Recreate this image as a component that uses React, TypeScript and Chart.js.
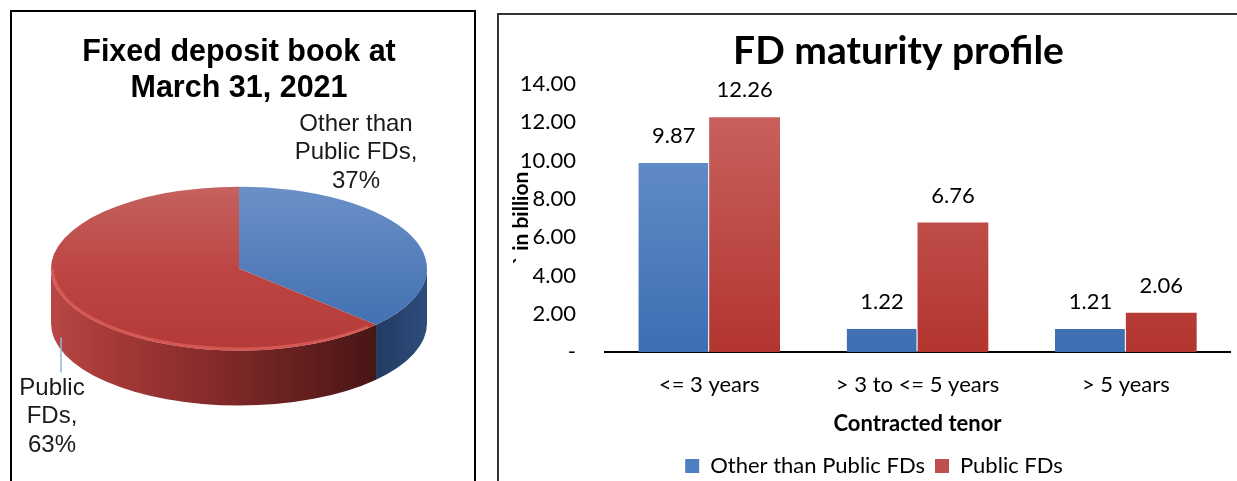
import { useEffect, useRef } from "react";
import { Chart, registerables } from "chart.js";

Chart.register(...registerables);

// ---------- data ----------
const pieTitle = ["Fixed deposit book at", "March 31, 2021"];
const pieCategories = ["Other than Public FDs", "Public FDs"];
const pieValues = [37, 63];
const pieLabelLines = [["Other than", "Public FDs,"], ["Public", "FDs,"]];

const barTitle = "FD maturity profile";
const barCategories = ["<= 3 years", "> 3 to <= 5 years", "> 5 years"];
const otherThanPublicFDs = [9.87, 1.22, 1.21];
const publicFDs = [12.26, 6.76, 2.06];
const yTickValues = [0, 2, 4, 6, 8, 10, 12, 14];
const xAxisTitle = "Contracted tenor";
const yAxisTitle = "` in billion";
const seriesNames = ["Other than Public FDs", "Public FDs"];

// ---------- styles ----------
const SQUASH = 0.436;
const DEPTH = 55;
const PIE_RADIUS = 188;
const pieLabelOffsets = [
  [117, -116],
  [-187, 148],
];
const pieLabelLineHeight = 28.5;
const BAR_TITLE_SHIFT = 31;

const pie3dPlugin = {
  id: "pie3d",
  beforeDatasetsDraw(chart: any) {
    const ctx = chart.ctx;
    const arcs = chart.getDatasetMeta(0).data;
    if (!arcs.length) return;
    const p = arcs[0].getProps(["x", "y", "outerRadius"], true);
    const cx = p.x, cy = p.y, R = p.outerRadius;
    const ry = R * SQUASH;
    arcs.forEach((arc: any, i: number) => {
      const a = arc.getProps(["startAngle", "endAngle"], true);
      const a0 = Math.max(a.startAngle, 0);
      const a1 = Math.min(a.endAngle, Math.PI);
      if (a1 <= a0) return;
      ctx.save();
      ctx.beginPath();
      ctx.ellipse(cx, cy, R, ry, 0, a0, a1, false);
      ctx.ellipse(cx, cy + DEPTH, R, ry, 0, a1, a0, true);
      ctx.closePath();
      const g = ctx.createLinearGradient(cx - R, 0, cx + R, 0);
      if (i === 0) {
        g.addColorStop(0, "#1a2f4e");
        g.addColorStop(0.8, "#1c3253");
        g.addColorStop(1, "#2e4d7c");
      } else {
        g.addColorStop(0, "#b84745");
        g.addColorStop(0.15, "#a63a38");
        g.addColorStop(0.5, "#7c2727");
        g.addColorStop(0.85, "#4a1616");
        g.addColorStop(1, "#3a1010");
      }
      ctx.fillStyle = g;
      ctx.fill();
      ctx.restore();
    });
    ctx.save();
    ctx.translate(cx, cy);
    ctx.scale(1, SQUASH);
    ctx.translate(-cx, -cy);
  },
  afterDatasetsDraw(chart: any) {
    const ctx = chart.ctx;
    ctx.restore();
    const arcs = chart.getDatasetMeta(0).data;
    if (!arcs.length) return;
    const p = arcs[0].getProps(["x", "y", "outerRadius"], true);
    const cx = p.x, cy = p.y, R = p.outerRadius;
    const ry = R * SQUASH;
    const red = arcs[1].getProps(["startAngle", "endAngle"], true);
    ctx.save();
    ctx.beginPath();
    ctx.ellipse(cx, cy, R - 1.5, ry - 1.5, 0, Math.max(red.startAngle, 0) + 0.05, Math.PI, false);
    ctx.strokeStyle = "rgba(225,100,96,0.7)";
    ctx.lineWidth = 3;
    ctx.stroke();
    ctx.restore();
  },
  afterDraw(chart: any) {
    const ctx = chart.ctx;
    const arcs = chart.getDatasetMeta(0).data;
    if (!arcs.length) return;
    const p = arcs[0].getProps(["x", "y"], true);
    const cx = p.x, cy = p.y;
    const total = pieValues.reduce((s, v) => s + v, 0);
    ctx.save();
    ctx.fillStyle = "#1a1a1a";
    ctx.font = "24px 'Liberation Sans'";
    ctx.textAlign = "center";
    ctx.textBaseline = "middle";
    pieValues.forEach((v, i) => {
      const lines = [...pieLabelLines[i], Math.round((v / total) * 100) + "%"];
      const lx = cx + pieLabelOffsets[i][0];
      const ly = cy + pieLabelOffsets[i][1];
      lines.forEach((t, k) => {
        ctx.fillText(t, lx, ly + (k - (lines.length - 1) / 2) * pieLabelLineHeight);
      });
    });
    ctx.strokeStyle = "#8eb4e3";
    ctx.lineWidth = 1.5;
    ctx.beginPath();
    ctx.moveTo(cx - 178, cy + 69);
    ctx.lineTo(cx - 178, cy + 104);
    ctx.stroke();
    ctx.restore();
  },
};

const pieFace = (c: any) => {
  const i = c.dataIndex;
  const chart = c.chart;
  const ca = chart.chartArea;
  if (!ca) return i === 0 ? "#4f7cbf" : "#bd4744";
  const cy = (ca.top + ca.bottom) / 2;
  const g = chart.ctx.createLinearGradient(0, cy - PIE_RADIUS, 0, cy + PIE_RADIUS);
  if (i === 0) {
    g.addColorStop(0, "#6b90c8");
    g.addColorStop(1, "#3b6bae");
  } else {
    g.addColorStop(0, "#c5625f");
    g.addColorStop(0.5, "#bd4643");
    g.addColorStop(1, "#b33a37");
  }
  return g;
};

const barLabelPlugin = {
  id: "barLabels",
  afterDatasetsDraw(chart: any) {
    const ctx = chart.ctx;
    ctx.save();
    ctx.font = "22px Lato";
    ctx.fillStyle = "#000";
    ctx.textAlign = "center";
    ctx.textBaseline = "middle";
    chart.data.datasets.forEach((ds: any, di: number) => {
      chart.getDatasetMeta(di).data.forEach((bar: any, j: number) => {
        const b = bar.getProps(["x", "y"], true);
        ctx.fillText(Number(ds.data[j]).toFixed(2), b.x, b.y - 27);
      });
    });
    ctx.restore();
  },
};

const barTextPlugin = {
  id: "barText",
  afterDraw(chart: any) {
    const ctx = chart.ctx;
    const ca = chart.chartArea;
    // y-axis title
    ctx.save();
    ctx.translate(ca.left - 84, (ca.top + ca.bottom) / 2);
    ctx.rotate(-Math.PI / 2);
    ctx.font = "bold 21px Lato";
    ctx.fillStyle = "#000";
    ctx.textAlign = "center";
    ctx.textBaseline = "middle";
    ctx.fillText(yAxisTitle, 0, 0);
    ctx.restore();
    // chart title (space reserved by the title block)
    const tb = chart.titleBlock;
    if (tb) {
      ctx.save();
      ctx.font = "bold 39px Lato";
      ctx.fillStyle = "#000";
      ctx.textAlign = "center";
      ctx.textBaseline = "middle";
      const yMid = tb.top + 14 + (39 * 1.2) / 2;
      ctx.fillText(barTitle, chart.width / 2 + BAR_TITLE_SHIFT, yMid);
      ctx.restore();
    }
  },
};

const barFill = (top: string, bottom: string) => (c: any) => {
  const ca = c.chart.chartArea;
  if (!ca) return bottom;
  const g = c.chart.ctx.createLinearGradient(0, ca.top, 0, ca.bottom);
  g.addColorStop(0, top);
  g.addColorStop(1, bottom);
  return g;
};

const legendColors = ["#4f7fc0", "#c0504d"];

export default function App() {
  const pieRef = useRef<HTMLCanvasElement>(null);
  const barRef = useRef<HTMLCanvasElement>(null);

  useEffect(() => {
    const pie = new Chart(pieRef.current!, {
      type: "pie",
      data: {
        labels: pieCategories,
        datasets: [
          {
            data: pieValues,
            backgroundColor: pieFace as any,
            borderWidth: 0,
            radius: PIE_RADIUS,
          } as any,
        ],
      },
      options: {
        responsive: false,
        animation: false,
        events: [],
        layout: { padding: { left: 0, right: 8, top: 0, bottom: 51 } },
        plugins: {
          legend: { display: false },
          tooltip: { enabled: false },
          title: {
            display: true,
            text: pieTitle,
            color: "#000",
            font: { family: "'Liberation Sans'", size: 30.5, weight: "bold", lineHeight: 1.2 },
            padding: { top: 24, bottom: 0 },
          },
        },
      },
      plugins: [pie3dPlugin],
    });

    const bar = new Chart(barRef.current!, {
      type: "bar",
      data: {
        labels: barCategories,
        datasets: [
          {
            label: seriesNames[0],
            data: otherThanPublicFDs,
            backgroundColor: barFill("#6e96cf", "#3d6eb2") as any,
            borderColor: "#ffffff",
            borderWidth: { top: 0, right: 1, bottom: 0, left: 0 },
            categoryPercentage: 0.68,
            barPercentage: 1,
          },
          {
            label: seriesNames[1],
            data: publicFDs,
            backgroundColor: barFill("#cb6663", "#b3352f") as any,
            borderWidth: 0,
            categoryPercentage: 0.68,
            barPercentage: 1,
          },
        ],
      },
      options: {
        responsive: false,
        animation: false,
        events: [],
        layout: { padding: { left: 20, right: 7, top: 0, bottom: 13 } },
        plugins: {
          tooltip: { enabled: false },
          title: {
            display: true,
            text: barTitle,
            color: "rgba(0,0,0,0)",
            font: { family: "Lato", size: 39, weight: "bold", lineHeight: 1.2 },
            padding: { top: 14, bottom: 9 },
          },
          legend: {
            position: "bottom",
            labels: {
              color: "#000",
              font: { family: "Lato", size: 22 },
              boxWidth: 14,
              boxHeight: 14,
              padding: 10,
              generateLabels: (chart: any) =>
                chart.data.datasets.map((ds: any, i: number) => ({
                  text: ds.label,
                  fillStyle: legendColors[i],
                  strokeStyle: legendColors[i],
                  lineWidth: 0,
                  hidden: false,
                  datasetIndex: i,
                  fontColor: "#000",
                })),
            },
          },
        },
        scales: {
          x: {
            grid: { display: false, drawTicks: false },
            border: { display: true, color: "#000", width: 2 },
            ticks: { color: "#000", font: { family: "Lato", size: 22 }, padding: 20 },
            title: {
              display: true,
              text: xAxisTitle,
              color: "#000",
              font: { family: "Lato", size: 22, weight: "bold" },
              padding: { top: -8, bottom: 8 },
            },
          },
          y: {
            min: 0,
            max: 14,
            afterBuildTicks: (s: any) => {
              s.ticks = yTickValues.map((v) => ({ value: v }));
            },
            afterFit: (s: any) => {
              s.width = 87;
            },
            grid: { display: false, drawTicks: false },
            border: { display: false },
            ticks: {
              color: "#000",
              font: { family: "Lato", size: 22 },
              padding: 29,
              callback: (v: any) => (Number(v) === 0 ? "-" : Number(v).toFixed(2)),
            },
          },
        },
      },
      plugins: [barLabelPlugin, barTextPlugin],
    });

    return () => {
      pie.destroy();
      bar.destroy();
    };
  }, []);

  return (
    <div
      style={{
        position: "absolute",
        left: 0,
        top: 0,
        width: 1237,
        height: 481,
        overflow: "hidden",
        background: "#fff",
      }}
    >
      <div
        style={{
          position: "absolute",
          left: 10,
          top: 10,
          width: 466,
          height: 520,
          boxSizing: "border-box",
          border: "2px solid #000",
        }}
      />
      <div
        style={{
          position: "absolute",
          left: 497,
          top: 13,
          width: 800,
          height: 520,
          boxSizing: "border-box",
          border: "2px solid #333",
        }}
      />
      <canvas
        ref={pieRef}
        width={464}
        height={471}
        style={{ position: "absolute", left: 11, top: 10 }}
      />
      <canvas
        ref={barRef}
        width={739}
        height={486}
        style={{ position: "absolute", left: 498, top: 14 }}
      />
    </div>
  );
}
